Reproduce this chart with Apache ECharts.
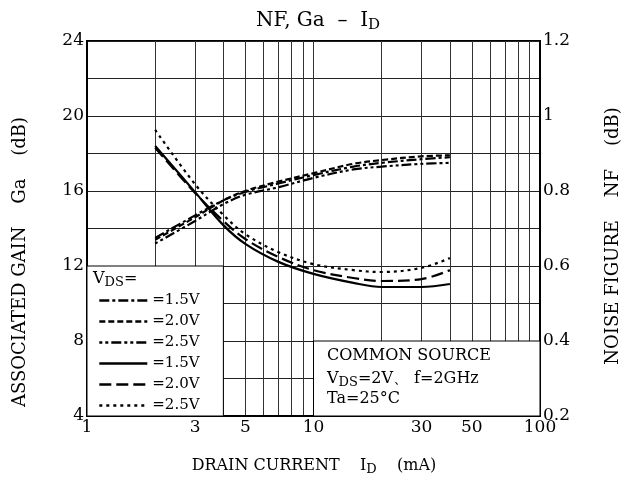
<!DOCTYPE html>
<html>
<head>
<meta charset="utf-8">
<script src="https://cdn.jsdelivr.net/npm/echarts@6/dist/echarts.min.js"></script>
<style>
html,body{margin:0;padding:0;background:#fff;}
#main{width:636px;height:482px;}
</style>
</head>
<body>
<div id="main"></div>
<script>
// ---- data ----
const currentMA = [2, 3, 4, 5, 7, 10, 15, 20, 30, 40];
const gaVds15 = [13.5, 14.7, 15.5, 15.95, 16.4, 16.85, 17.3, 17.5, 17.7, 17.8];
const gaVds20 = [13.4, 14.6, 15.5, 16.0, 16.5, 16.95, 17.45, 17.65, 17.85, 17.9];
const gaVds25 = [13.2, 14.4, 15.3, 15.8, 16.2, 16.7, 17.15, 17.3, 17.45, 17.5];
const nfVds15 = [0.92, 0.797, 0.709, 0.659, 0.611, 0.579, 0.555, 0.544, 0.544, 0.552];
const nfVds20 = [0.915, 0.795, 0.72, 0.672, 0.624, 0.589, 0.568, 0.56, 0.565, 0.589];
const nfVds25 = [0.963, 0.818, 0.736, 0.685, 0.637, 0.605, 0.589, 0.584, 0.595, 0.621];
const xLabelValues = [1, 3, 5, 10, 30, 50, 100];
const xGridValues = [1,2,3,4,5,6,7,8,9,10,20,30,40,50,60,70,80,90,100];
const legendLabels = ['=1.5V', '=2.0V', '=2.5V', '=1.5V', '=2.0V', '=2.5V'];
const seriesNames = ['Ga 1.5V', 'Ga 2.0V', 'Ga 2.5V', 'NF 1.5V', 'NF 2.0V', 'NF 2.5V'];
const legendBox = [[1, 4], [4, 12]];
const noteBox = [[10, 4], [100, 8]];

const FONT = 'DejaVu Serif';
const pairs = arr => currentMA.map((x, i) => [x, arr[i]]);

const chart = echarts.init(document.getElementById('main'));

const lineSeries = (name, data, yIdx, type) => ({
  name: name,
  type: 'line',
  yAxisIndex: yIdx,
  data: pairs(data),
  smooth: 0.35,
  symbol: 'none',
  lineStyle: { color: '#000', width: 2.2, type: type },
  itemStyle: { color: '#000' },
  z: 3
});

chart.setOption({
  animation: false,
  backgroundColor: '#fff',
  title: {
    text: '{a|NF, Ga  –  I}{s|D}',
    left: 313,
    top: 4,
    textAlign: 'center',
    textStyle: {
      fontWeight: 'normal',
      rich: {
        a: { fontFamily: FONT, fontSize: 20, fontWeight: 'normal', color: '#000' },
        s: { fontFamily: FONT, fontSize: 15, fontWeight: 'normal', color: '#000', padding: [9, 0, 0, 0] }
      }
    }
  },
  grid: {
    left: 87, right: 96, top: 41, bottom: 66,
    show: true, borderColor: '#000', borderWidth: 2, backgroundColor: 'transparent'
  },
  legend: {
    orient: 'vertical',
    left: 93,
    top: 288,
    itemWidth: 48,
    itemHeight: 14,
    itemGap: 6,
    data: seriesNames,
    itemStyle: { opacity: 0, borderWidth: 0 },
    lineStyle: { width: 2.6 },
    formatter: name => legendLabels[seriesNames.indexOf(name)],
    textStyle: { fontFamily: FONT, fontSize: 15, color: '#000' },
    selectedMode: false
  },
  xAxis: {
    type: 'log',
    logBase: 10,
    min: 1,
    max: 100,
    axisLine: { show: true, lineStyle: { color: '#000', width: 2 } },
    axisTick: { show: false, customValues: xGridValues },
    axisLabel: { customValues: xLabelValues, fontFamily: FONT, fontSize: 17, color: '#000', margin: 3 },
    splitLine: { show: true, lineStyle: { color: '#333', width: 1 } },
    minorSplitLine: { show: false }
  },
  yAxis: [
    {
      type: 'value',
      min: 4, max: 24, interval: 2,
      position: 'left',
      axisLine: { show: true, lineStyle: { color: '#000', width: 2 } },
      axisTick: { show: false },
      axisLabel: {
        fontFamily: FONT, fontSize: 17, color: '#000', margin: 3,
        formatter: v => (v % 4 === 0 ? String(v) : '')
      },
      splitLine: { show: true, lineStyle: { color: '#222', width: 1 } }
    },
    {
      type: 'value',
      min: 0.2, max: 1.2, interval: 0.2,
      position: 'right',
      axisLine: { show: true, lineStyle: { color: '#000', width: 2 } },
      axisTick: { show: false },
      axisLabel: {
        fontFamily: FONT, fontSize: 17, color: '#000', margin: 3,
        formatter: v => String(+(+v).toFixed(1))
      },
      splitLine: { show: false }
    }
  ],
  graphic: [
    {
      type: 'text', x: 20, y: 262, rotation: Math.PI / 2,
      style: {
        text: 'ASSOCIATED GAIN    Ga    (dB)',
        fontFamily: FONT, fontSize: 18, fill: '#000', align: 'center', verticalAlign: 'middle'
      }
    },
    {
      type: 'text', x: 613, y: 236, rotation: Math.PI / 2,
      style: {
        text: 'NOISE FIGURE    NF    (dB)',
        fontFamily: FONT, fontSize: 18, fill: '#000', align: 'center', verticalAlign: 'middle'
      }
    },
    {
      type: 'text', x: 314, y: 466,
      style: {
        text: '{a|DRAIN CURRENT    I}{s|D}{a|    (mA)}',
        align: 'center', verticalAlign: 'middle',
        rich: {
          a: { fontFamily: FONT, fontSize: 16, fill: '#000' },
          s: { fontFamily: FONT, fontSize: 13, fill: '#000', padding: [7, 0, 0, 0] }
        }
      }
    },
    {
      type: 'text', x: 93, y: 279, z: 10,
      style: {
        text: '{a|V}{s|DS}{a|=}',
        align: 'left', verticalAlign: 'middle',
        rich: {
          a: { fontFamily: FONT, fontSize: 16, fill: '#000' },
          s: { fontFamily: FONT, fontSize: 13, fill: '#000', padding: [7, 0, 0, 0] }
        }
      }
    },
    {
      type: 'text', x: 327, y: 356, z: 10,
      style: { text: 'COMMON SOURCE', fontFamily: FONT, fontSize: 16, fill: '#000', align: 'left', verticalAlign: 'middle' }
    },
    {
      type: 'text', x: 327, y: 379, z: 10,
      style: {
        text: '{a|V}{s|DS}{a|=2V、 f=2GHz}',
        align: 'left', verticalAlign: 'middle',
        rich: {
          a: { fontFamily: FONT, fontSize: 16, fill: '#000' },
          s: { fontFamily: FONT, fontSize: 13, fill: '#000', padding: [7, 0, 0, 0] }
        }
      }
    },
    {
      type: 'text', x: 327, y: 399, z: 10,
      style: { text: 'Ta=25°C', fontFamily: FONT, fontSize: 16, fill: '#000', align: 'left', verticalAlign: 'middle' }
    }
  ],
  series: [
    Object.assign(lineSeries(seriesNames[0], gaVds15, 0, [10, 3, 3, 3]), {
      markArea: {
        silent: true,
        itemStyle: { color: '#fff', borderColor: '#000', borderWidth: 1 },
        data: [
          [{ coord: legendBox[0] }, { coord: legendBox[1] }],
          [{ coord: noteBox[0] }, { coord: noteBox[1] }]
        ]
      }
    }),
    lineSeries(seriesNames[1], gaVds20, 0, [6, 3]),
    lineSeries(seriesNames[2], gaVds25, 0, [3, 3, 3, 3, 10, 3]),
    lineSeries(seriesNames[3], nfVds15, 1, 'solid'),
    lineSeries(seriesNames[4], nfVds20, 1, [12, 5]),
    lineSeries(seriesNames[5], nfVds25, 1, [3, 4])
  ]
});
</script>
</body>
</html>
